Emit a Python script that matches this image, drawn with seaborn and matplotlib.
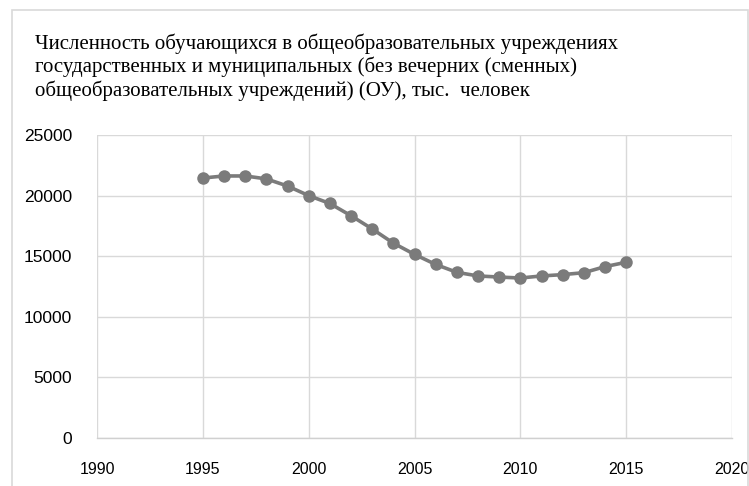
import matplotlib
matplotlib.use('Agg')
import matplotlib.pyplot as plt
import seaborn as sns
import pandas as pd
from matplotlib.patches import Rectangle

# Data
years = [1995, 1996, 1997, 1998, 1999, 2000, 2001, 2002, 2003, 2004, 2005,
         2006, 2007, 2008, 2009, 2010, 2011, 2012, 2013, 2014, 2015]
students = [21450, 21620, 21620, 21380, 20790, 20000, 19350, 18340, 17250, 16080, 15150,
            14320, 13670, 13370, 13280, 13200, 13370, 13480, 13640, 14140, 14500]
x_ticks = [1990, 1995, 2000, 2005, 2010, 2015, 2020]
y_ticks = [0, 5000, 10000, 15000, 20000, 25000]
title = ('Численность обучающихся в общеобразовательных учреждениях\n'
         'государственных и муниципальных (без вечерних (сменных)\n'
         'общеобразовательных учреждений) (ОУ), тыс.  человек')

df = pd.DataFrame({'year': years, 'students': students})

sns.set_theme(style='white')
plt.rcParams['font.family'] = ['Liberation Sans', 'DejaVu Sans']

fig = plt.figure(figsize=(7.49, 4.86), dpi=100)
ax = fig.add_axes([97 / 749, 1 - 438 / 486, 635 / 749, 303 / 486])

sns.lineplot(data=df, x='year', y='students', color='#7b7b7b', linewidth=2.6,
             marker='o', markersize=9, markeredgewidth=0, ax=ax)

ax.set_xlim(1990, 2020)
ax.set_ylim(0, 25000)
ax.set_xticks(x_ticks)
ax.set_yticks(y_ticks)
ax.grid(True, color='#d9d9d9', linewidth=1)
ax.set_axisbelow(True)
for side in ['top', 'right', 'left']:
    ax.spines[side].set_visible(False)
ax.spines['bottom'].set_color('#d0d0d0')
ax.spines['bottom'].set_linewidth(1)
ax.tick_params(axis='x', length=0, pad=17, labelsize=11.5, labelcolor='black')
ax.tick_params(axis='y', length=0, pad=18, labelsize=12.5, labelcolor='black')
ax.set_xlabel('')
ax.set_ylabel('')

# Outer chart frame
fig.patches.append(Rectangle((12 / 749, -0.01), 736 / 749, 1 - 10 / 486 + 0.01,
                             transform=fig.transFigure, fill=False,
                             edgecolor='#d9d9d9', linewidth=1.2))

fig.text(35 / 749, 1 - 33 / 486, title, family=['Liberation Serif'], fontsize=15,
         va='top', ha='left', linespacing=1.22, color='black')

fig.savefig('out.png', dpi=100)
